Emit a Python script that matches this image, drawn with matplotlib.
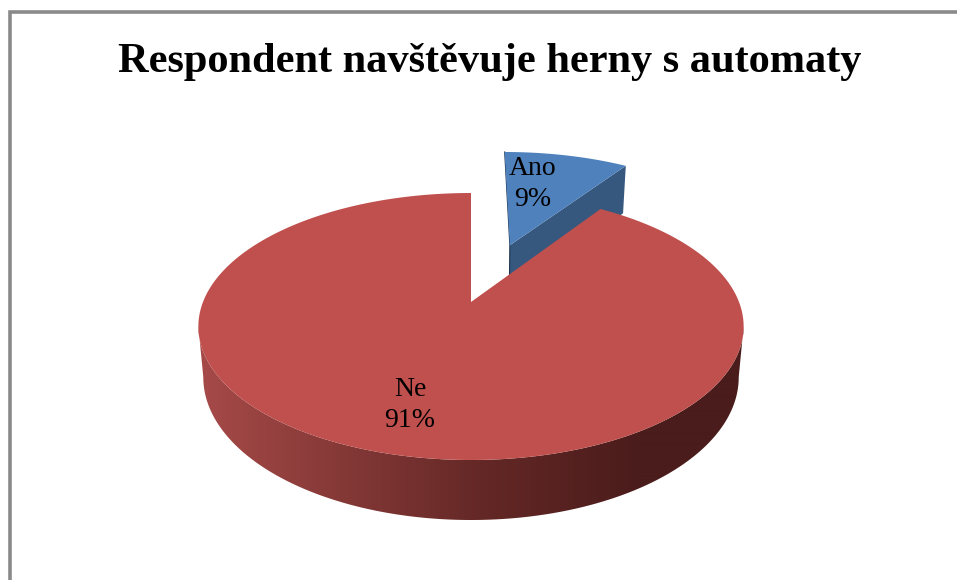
import numpy as np
import matplotlib
matplotlib.use("Agg")
import matplotlib.pyplot as plt
from matplotlib.patches import Polygon

categories = ["Ano", "Ne"]
values = [9.4, 90.6]
percent_labels = ["9%", "91%"]
title = "Respondent navštěvuje herny s automaty"
colors = ["#4F81BD", "#C0504D"]
blue_cut = "#36587F"
blue_edge = "#1F3550"

plt.rcParams["font.family"] = ["Liberation Serif", "DejaVu Serif"]

CX, CY, RX, RY, K, DEPTH = 471.0, 302.0, 268.0, 129.0, 0.1835, 49.0
EXPLODE = 0.50
BLUE_SHIFT = 3.0
BLUE_DEPTH = 1.2
BOTTOM_X = 0.982


def project(u, v, bottom=False, depth=DEPTH):
    w = 1 + K * v
    x = RX * u / w
    y = CY - RY * v / w
    if bottom:
        x = x * BOTTOM_X
        y = y + depth / w
    return CX + x, y


def rim(theta, du=0.0, dv=0.0, bottom=False, depth=DEPTH):
    return project(np.sin(theta) + du, np.cos(theta) + dv, bottom, depth)


def wall_rgb(x):
    stops_x = [200, 480, 640, 760]
    return np.stack([
        np.interp(x, stops_x, [166, 100, 74, 74]),
        np.interp(x, stops_x, [74, 40, 28, 28]),
        np.interp(x, stops_x, [72, 38, 27, 27]),
    ], axis=-1) / 255


fig = plt.figure(figsize=(9.57, 5.80), dpi=100, facecolor="white")
ax = fig.add_axes([0, 0, 1, 1])

# frame
ax.plot([9.5, 9.5, 957], [580, 11.5, 11.5], color="#8A8A8A", lw=2.6,
        solid_joinstyle="miter", zorder=1)

shares = np.array(values, dtype=float) / sum(values)
edges = np.concatenate([[0], np.cumsum(shares)]) * 2 * np.pi

# exploded slice
a0, a1 = edges[0], edges[1]
mid = (a0 + a1) / 2
du, dv = EXPLODE * np.sin(mid), EXPLODE * np.cos(mid)
blue_depth = DEPTH * BLUE_DEPTH
ax0, ay0 = project(du, dv)
bx0, by0 = project(du, dv, True, blue_depth)
rt_x, rt_y = rim(a1, du, dv)
rb_x, rb_y = rim(a1, du, dv, True, blue_depth)
ax.fill(np.array([ax0, rt_x, rb_x, bx0]) + BLUE_SHIFT, [ay0, rt_y, rb_y, by0],
        color=blue_cut, lw=0, zorder=2)
lt_x, lt_y = rim(a0, du, dv)
ax.plot(np.array([lt_x, ax0, bx0]) + BLUE_SHIFT, [lt_y, ay0, by0], color=blue_edge, lw=0.8, zorder=2)
th = np.linspace(a0, a1, 60)
xs, ys = rim(th, du, dv)
ax.fill(np.r_[ax0, xs] + BLUE_SHIFT, np.r_[ay0, ys], color=colors[0], lw=0, zorder=3)

# main slice: wall with a horizontal gradient, clipped to the front band
th = np.linspace(edges[1], edges[2], 1400)
xt, yt = rim(th)
xb, yb = rim(th, bottom=True)
it0, it1 = int(np.argmax(xt)), int(np.argmin(xt))
ib0, ib1 = int(np.argmax(xb)), int(np.argmin(xb))
band = np.c_[np.r_[xt[it0:it1 + 1], xb[ib0:ib1 + 1][::-1]],
             np.r_[yt[it0:it1 + 1], yb[ib0:ib1 + 1][::-1]]]
gx = np.arange(190, 760)
grad = wall_rgb(gx)[np.newaxis, :, :]
img = ax.imshow(grad, extent=(190, 760, 530, 180), aspect="auto", zorder=4, interpolation="bilinear")
clip = Polygon(band, closed=True, transform=ax.transData, facecolor="none", edgecolor="none")
ax.add_patch(clip)
img.set_clip_path(clip)

# main slice: top
ax.fill(np.r_[CX, xt], np.r_[CY, yt], color=colors[1], lw=0, zorder=5)

ax.text(490, 72, title, ha="center", va="baseline", fontsize=30.5, fontweight="bold", color="black", zorder=6)
ax.text(533, 184, f"{categories[0]}\n{percent_labels[0]}", ha="center", va="center",
        fontsize=20, color="black", linespacing=1.27, zorder=6)
ax.text(410, 405, f"{categories[1]}\n{percent_labels[1]}", ha="center", va="center",
        fontsize=20, color="black", linespacing=1.27, zorder=6)

ax.set_xlim(0, 957)
ax.set_ylim(580, 0)
ax.axis("off")

fig.savefig("out.png", dpi=100, facecolor="white")
